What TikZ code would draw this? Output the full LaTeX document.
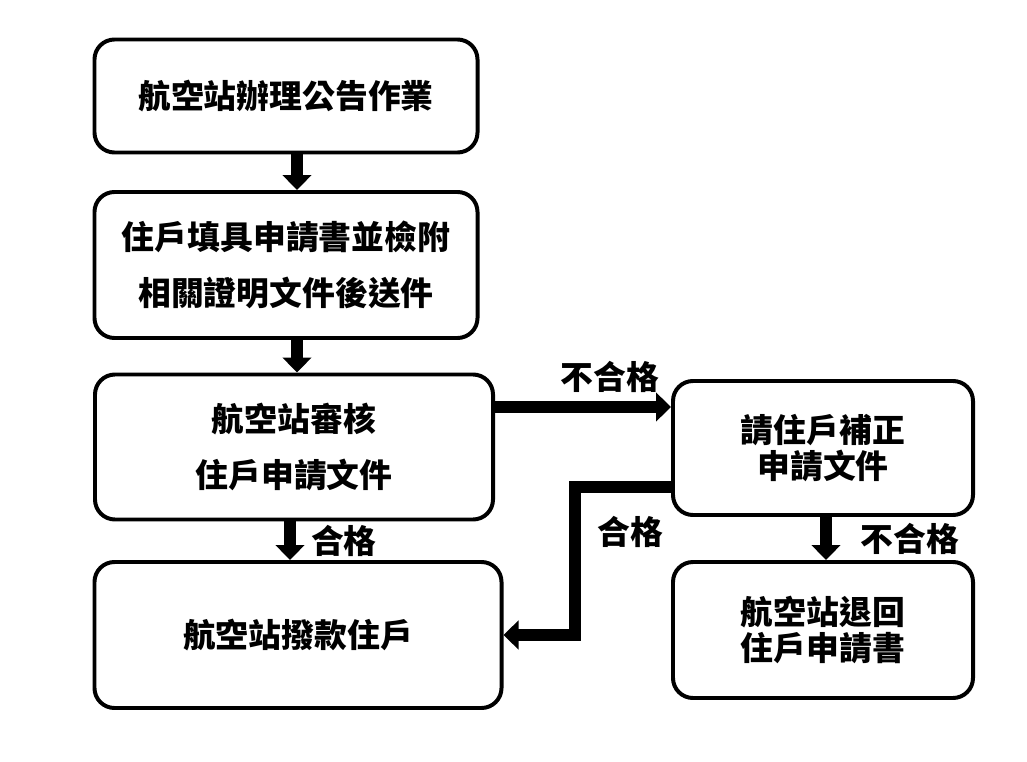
\documentclass[tikz,border=0pt]{standalone}
\usepackage{fontspec}
\setmainfont{Noto Sans CJK TC}
\usetikzlibrary{arrows.meta,positioning}

\begin{document}
\begin{tikzpicture}[x=0.03cm,y=-0.03cm,
  box/.style={draw=black,line width=3.4pt,rounded corners=0.6cm,align=center,
    font=\fontsize{28}{48}\selectfont\bfseries,inner sep=0pt},
  tight/.style={font=\fontsize{28}{31}\selectfont\bfseries},
  arr/.style={-{Triangle[length=0.45cm,width=0.85cm]},line width=9.5pt,black},
  lbl/.style={font=\fontsize{28}{30}\selectfont\bfseries}
]
\useasboundingbox (0,0) rectangle (1027,762);
% main column
\node[box,minimum width=11.49cm,minimum height=3.39cm] (notice) at (286,96) {航空站辦理公告作業};
\node[box,minimum width=11.49cm,minimum height=4.38cm] (apply) at (286,265) {住戶填具申請書並檢附\\相關證明文件後送件};
\node[box,minimum width=11.94cm,minimum height=4.35cm] (review) at (294,447) {航空站審核\\住戶申請文件};
\node[box,minimum width=12.21cm,minimum height=4.38cm] (pay) at (298,635) {航空站撥款住戶};

% right column
\node[box,tight,minimum width=9cm,minimum height=4.02cm] (fix) at (823,448) {請住戶補正\\申請文件};
\node[box,tight,minimum width=9cm,minimum height=4.08cm] (back) at (823,630) {航空站退回\\住戶申請書};

\coordinate (bend) at (575,487);

\draw[arr] (notice.south -| 297,0) -- (apply.north -| 297,0);
\draw[arr] (apply.south -| 297,0) -- (review.north -| 297,0);
\draw[arr] (review.south -| 290,0) -- node[lbl,right=0.35cm] {合格} (pay.north -| 290,0);
\draw[arr] (review.east |- 0,407) -- (fix.west |- 0,407);
\draw[arr] (fix.south -| 826,0) -- node[lbl,right=0.75cm] {不合格} (back.north -| 826,0);
\draw[arr,rounded corners=0pt] (fix.west |- bend) -- (bend) |- (pay.east);
\node[lbl] (failrev) at (610,377) {不合格};
\node[lbl] (okfix) at (630,532) {合格};
\end{tikzpicture}
\end{document}
